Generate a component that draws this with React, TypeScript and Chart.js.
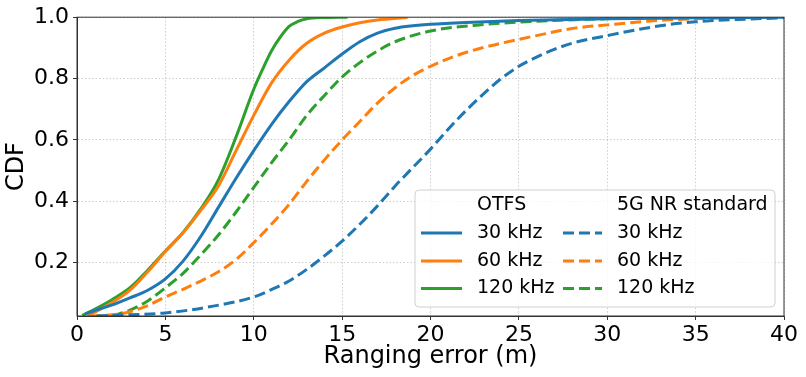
import React, { useEffect, useRef } from "react";
import { Chart, registerables } from "chart.js";

Chart.register(...registerables);

// ---- tick labels ----
const xTicks = [0, 5, 10, 15, 20, 25, 30, 35, 40];
const yTicks = [0.2, 0.4, 0.6, 0.8, 1.0];

// ---- legend groups ----
const groupTitles = ["OTFS", "5G NR standard"];
const rateLabels = ["30 kHz", "60 kHz", "120 kHz"];

// ---- OTFS 30 kHz ----
const otfs30X = [0.45, 1, 2, 3, 4, 5, 6, 7, 8, 9, 10, 11, 12, 13, 14, 15, 16, 17, 18, 19, 20, 22, 25, 30, 35, 40];
const otfs30Y = [0.032, 0.044, 0.062, 0.085, 0.11, 0.147, 0.205, 0.285, 0.38, 0.475, 0.565, 0.65, 0.725, 0.79, 0.835, 0.88, 0.92, 0.948, 0.964, 0.972, 0.977, 0.983, 0.989, 0.995, 0.998, 1.0];

// ---- OTFS 60 kHz ----
const otfs60X = [0.6, 1, 2, 3, 4, 5, 6, 7, 8, 9, 10, 11, 12, 13, 14, 15, 16, 17, 18.7];
const otfs60Y = [0.026, 0.038, 0.07, 0.11, 0.17, 0.236, 0.297, 0.37, 0.45, 0.565, 0.68, 0.785, 0.86, 0.915, 0.948, 0.968, 0.982, 0.991, 0.999];

// ---- OTFS 120 kHz ----
const otfs120X = [0.3, 1, 2, 3, 4, 5, 6, 7, 8, 9, 10, 10.5, 11, 11.5, 12, 12.5, 13, 14, 15.3];
const otfs120Y = [0.028, 0.048, 0.08, 0.118, 0.175, 0.238, 0.298, 0.375, 0.47, 0.61, 0.765, 0.83, 0.89, 0.935, 0.97, 0.986, 0.995, 0.999, 1.0];

// ---- 5G NR 30 kHz ----
const nr30X = [1.1, 3, 5, 7.5, 10, 11, 12, 13, 14, 15, 16, 17, 18, 19, 20, 21, 22, 23, 24, 25, 26, 27, 28, 30, 33, 35, 38, 40];
const nr30Y = [0.026, 0.03, 0.036, 0.056, 0.088, 0.112, 0.14, 0.178, 0.222, 0.27, 0.325, 0.385, 0.45, 0.51, 0.57, 0.635, 0.695, 0.75, 0.8, 0.84, 0.87, 0.895, 0.915, 0.94, 0.972, 0.985, 0.994, 0.998];

// ---- 5G NR 60 kHz ----
const nr60X = [0.75, 2, 3, 4, 5, 6, 7, 8, 9, 10, 11, 12, 13, 14, 15, 16, 17, 18, 19, 20, 22, 24, 26, 28, 30, 33, 36.8];
const nr60Y = [0.026, 0.03, 0.04, 0.06, 0.088, 0.113, 0.14, 0.17, 0.21, 0.265, 0.325, 0.39, 0.465, 0.535, 0.6, 0.66, 0.72, 0.77, 0.81, 0.84, 0.885, 0.915, 0.94, 0.963, 0.975, 0.99, 0.998];

// ---- 5G NR 120 kHz ----
const nr120X = [2, 3, 4, 5, 6, 7, 8, 9, 10, 11, 12, 13, 14, 15, 16, 17, 18, 20, 23, 26, 30, 33.6];
const nr120Y = [0.026, 0.045, 0.075, 0.118, 0.165, 0.225, 0.29, 0.365, 0.445, 0.525, 0.6, 0.68, 0.745, 0.805, 0.852, 0.89, 0.92, 0.955, 0.976, 0.987, 0.995, 0.999];

const colors = ["#1f77b4", "#ff7f0e", "#2ca02c"];
const FONT = "'DejaVu Sans', sans-serif";

const pts = (xs: number[], ys: number[]) => xs.map((x, i) => ({ x, y: ys[i] }));

const seriesDefs = [
  { xs: otfs30X, ys: otfs30Y, group: 0, rate: 0 },
  { xs: otfs60X, ys: otfs60Y, group: 0, rate: 1 },
  { xs: otfs120X, ys: otfs120Y, group: 0, rate: 2 },
  { xs: nr30X, ys: nr30Y, group: 1, rate: 0 },
  { xs: nr60X, ys: nr60Y, group: 1, rate: 1 },
  { xs: nr120X, ys: nr120Y, group: 1, rate: 2 },
];

const framePlugin = {
  id: "frame",
  afterDraw(chart: any) {
    const { ctx, chartArea: a } = chart;
    ctx.save();
    ctx.strokeStyle = "#333";
    ctx.lineWidth = 1;
    ctx.strokeRect(a.left, a.top, a.right - a.left, a.bottom - a.top);
    ctx.restore();
  },
};

const legendPlugin = {
  id: "groupLegend",
  afterDraw(chart: any) {
    const { ctx } = chart;
    const boxL = 415, boxT = 190, boxW = 360, boxH = 117;
    const colLine = [[421, 462], [563, 602]];
    const colText = [477, 617];
    const rowY = [205, 233, 261, 288.5];
    ctx.save();
    ctx.beginPath();
    const r = 4;
    ctx.moveTo(boxL + r, boxT);
    ctx.arcTo(boxL + boxW, boxT, boxL + boxW, boxT + boxH, r);
    ctx.arcTo(boxL + boxW, boxT + boxH, boxL, boxT + boxH, r);
    ctx.arcTo(boxL, boxT + boxH, boxL, boxT, r);
    ctx.arcTo(boxL, boxT, boxL + boxW, boxT, r);
    ctx.closePath();
    ctx.fillStyle = "rgba(255,255,255,0.8)";
    ctx.fill();
    ctx.strokeStyle = "#d0d0d0";
    ctx.lineWidth = 1;
    ctx.stroke();
    ctx.font = `19px ${FONT}`;
    ctx.textBaseline = "middle";
    ctx.textAlign = "left";
    ctx.fillStyle = "#000";
    groupTitles.forEach((t, g) => ctx.fillText(t, colText[g], rowY[0]));
    chart.data.datasets.forEach((ds: any) => {
      const g = ds.group, row = ds.rate + 1;
      ctx.beginPath();
      ctx.strokeStyle = ds.borderColor;
      ctx.lineWidth = 3;
      ctx.setLineDash(ds.borderDash || []);
      ctx.moveTo(colLine[g][0], rowY[row]);
      ctx.lineTo(colLine[g][1], rowY[row]);
      ctx.stroke();
      ctx.setLineDash([]);
      ctx.fillStyle = "#000";
      ctx.fillText(ds.label, colText[g], rowY[row]);
    });
    ctx.restore();
  },
};

export default function App() {
  const ref = useRef<HTMLCanvasElement>(null);
  useEffect(() => {
    if (!ref.current) return;
    const chart = new Chart(ref.current, {
      type: "line",
      data: {
        datasets: seriesDefs.map((s) => ({
          label: rateLabels[s.rate],
          group: s.group,
          rate: s.rate,
          data: pts(s.xs, s.ys),
          borderColor: colors[s.rate],
          backgroundColor: colors[s.rate],
          borderWidth: 3,
          borderDash: s.group === 1 ? [11, 5] : [],
          pointRadius: 0,
          cubicInterpolationMode: "monotone",
          fill: false,
        })) as any,
      },
      options: {
        responsive: false,
        animation: false,
        devicePixelRatio: 1,
        layout: { padding: { top: 14, right: 22, left: 0, bottom: 0 } },
        plugins: { legend: { display: false }, tooltip: { enabled: false } },
        scales: {
          x: {
            type: "linear",
            min: 0,
            max: 40,
            afterBuildTicks: (s: any) => { s.ticks = xTicks.map((v) => ({ value: v })); },
            afterFit: (s: any) => { s.height = 61; },
            ticks: { font: { family: FONT, size: 22 }, color: "#000", padding: 2, maxRotation: 0, callback: (v: any) => String(v) },
            grid: { color: "rgba(176,176,176,0.8)", lineWidth: 0.8, tickLength: 4, tickColor: "#333", tickWidth: 1, tickBorderDash: [] },
            border: { display: true, color: "#333", width: 1, dash: [1.5, 2] },
            title: { display: true, text: "Ranging error (m)", font: { family: FONT, size: 24 }, color: "#000", padding: { top: 0, bottom: 6 } },
          },
          y: {
            type: "linear",
            min: 0.026,
            max: 1.0,
            afterBuildTicks: (s: any) => { s.ticks = yTicks.map((v) => ({ value: v })); },
            afterFit: (s: any) => { s.width = 77; },
            ticks: { font: { family: FONT, size: 22 }, color: "#000", padding: 4, callback: (v: any) => Number(v).toFixed(1) },
            grid: { color: "rgba(176,176,176,0.8)", lineWidth: 0.8, tickLength: 4, tickColor: "#333", tickWidth: 1, tickBorderDash: [] },
            border: { display: true, color: "#333", width: 1, dash: [1.5, 2] },
            title: { display: true, text: "CDF", font: { family: FONT, size: 24 }, color: "#000", padding: { top: 2, bottom: 0 } },
          },
        },
      },
      plugins: [framePlugin, legendPlugin],
    });
    return () => chart.destroy();
  }, []);
  return (
    <div style={{ position: "fixed", left: 0, top: 0, width: 806, height: 377, background: "#fff" }}>
      <canvas ref={ref} width={806} height={377} />
    </div>
  );
}
